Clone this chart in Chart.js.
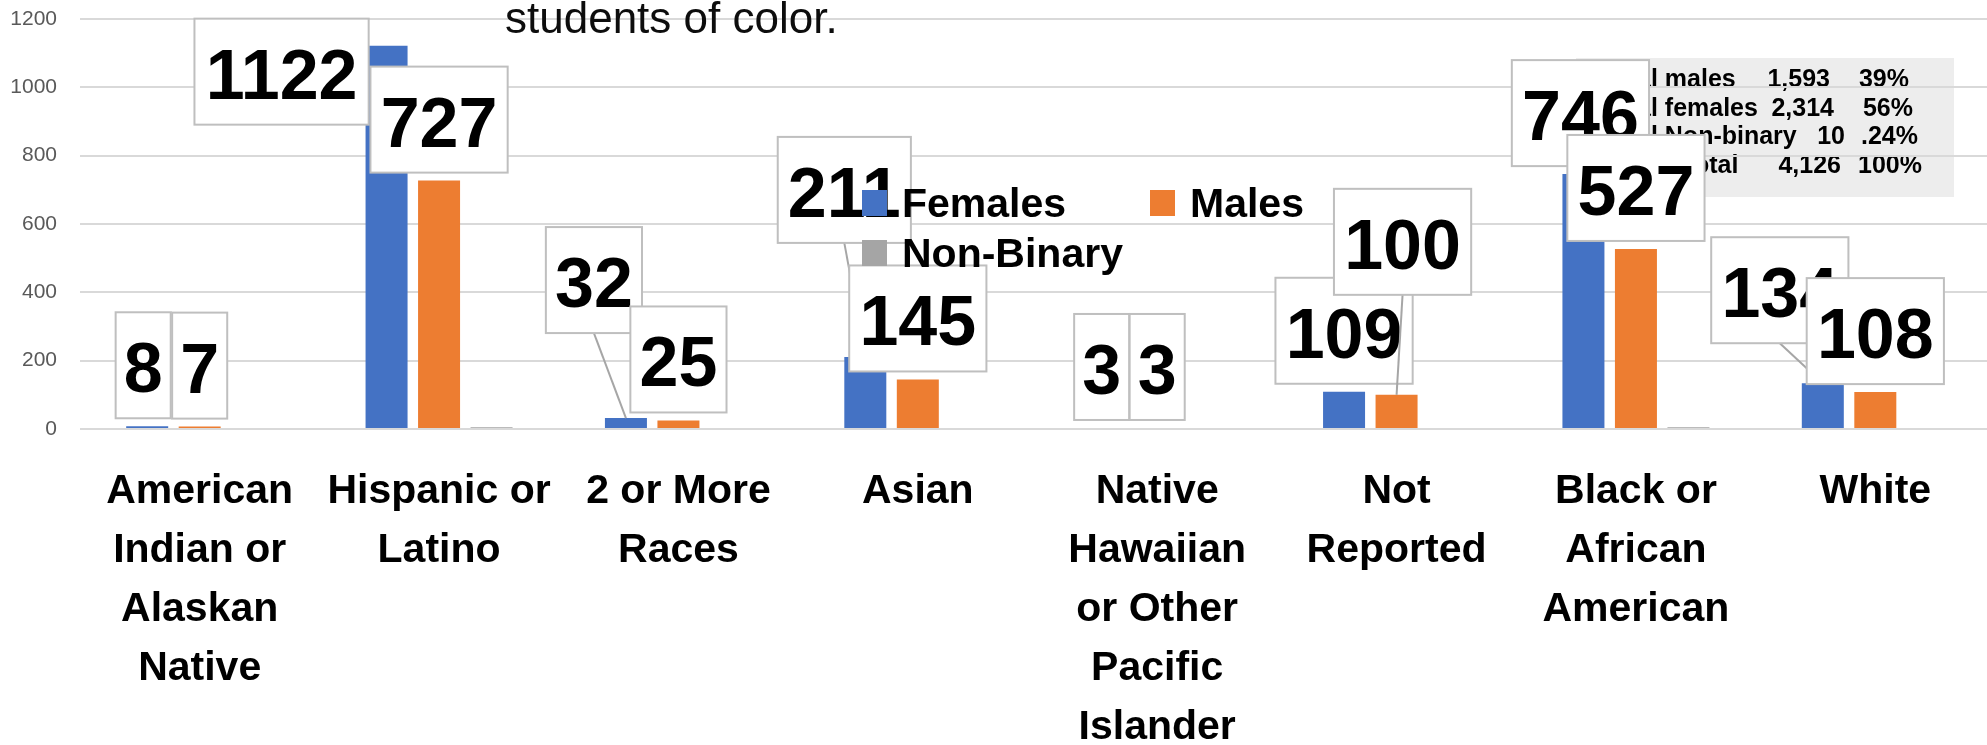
<!DOCTYPE html>
<html>
<head>
<meta charset="utf-8">
<title>Students by race / ethnicity and gender</title>
<script src="https://cdn.jsdelivr.net/npm/chart.js@4.4.1/dist/chart.umd.min.js"></script>
<style>
    html, body { margin: 0; padding: 0; background: #ffffff; overflow: hidden; }
    #wrap { width: 1995px; height: 745px; }
</style>
</head>
<body>
<div id="wrap"><canvas id="raceChart" width="1995" height="745"></canvas></div>
<script>
// ---- data ----
const categories = [
    ['American', 'Indian or', 'Alaskan', 'Native'],
    ['Hispanic or', 'Latino'],
    ['2 or More', 'Races'],
    ['Asian'],
    ['Native', 'Hawaiian', 'or Other', 'Pacific', 'Islander'],
    ['Not', 'Reported'],
    ['Black or', 'African', 'American'],
    ['White']
];
const females = [8, 1122, 32, 211, 3, 109, 746, 134];
const males = [7, 727, 25, 145, 3, 100, 527, 108];
const nonBinary = [0, 5, 0, 0, 0, 0, 5, 0];
const yTicks = [0, 200, 400, 600, 800, 1000, 1200];

// summary table pasted on the slide
const summaryLabels = ['Total males', 'Total females', 'Total Non-binary', 'Grand Total'];
const summaryCounts = ['1,593', '2,314', '10', '4,126'];
const summaryShares = ['39%', '56%', '.24%', '100%'];

const titleText = 'students of color.';

// ---- label nudges (pixels, relative to the default spot above the bar) ----
const femaleNudge = [[-4, 0], [-105, 87], [-32, -77], [-21, -106], [-3, 0], [0, 0], [-3, 0], [-43, -32]];
const maleNudge = [[0, 0], [0, 0], [0, 0], [0, 0], [0, 0], [6, -92], [0, 0], [0, 0]];
const femaleLeader = [false, false, true, true, false, false, false, true];
const maleLeader = [false, false, false, false, false, true, false, false];

const FONT = "'Liberation Sans', Arial, sans-serif";
Chart.defaults.font.family = FONT;

/**
 * Page background plus the grey summary box (sits under the gridlines)
 */
const backdropPlugin = {
    id: 'backdrop',
    beforeDraw(chart) {
        const ctx = chart.ctx;
        ctx.save();
        ctx.fillStyle = '#ffffff';
        ctx.fillRect(0, 0, chart.width, chart.height);

        ctx.fillStyle = '#ededed';
        ctx.fillRect(1576, 58, 378, 139);

        ctx.fillStyle = '#000000';
        ctx.font = 'bold 25px ' + FONT;
        ctx.textBaseline = 'alphabetic';
        const countRight = [1830, 1834, 1845, 1841];
        const shareRight = [1909, 1913, 1918, 1922];
        summaryLabels.forEach((txt, i) => {
            const y = 87 + i * 28.6;
            ctx.textAlign = 'left';
            ctx.fillText(txt, 1600, y);
            ctx.textAlign = 'right';
            ctx.fillText(summaryCounts[i], countRight[i], y);
            ctx.fillText(summaryShares[i], shareRight[i], y);
        });
        ctx.restore();
    }
};

/**
 * Boxed value labels, Excel style, with leader lines for moved labels
 */
const valueLabelPlugin = {
    id: 'valueLabels',
    afterDatasetsDraw(chart) {
        const ctx = chart.ctx;
        const sets = [
            { values: females, nudge: femaleNudge, leader: femaleLeader, meta: chart.getDatasetMeta(0) },
            { values: males, nudge: maleNudge, leader: maleLeader, meta: chart.getDatasetMeta(1) }
        ];
        ctx.save();
        ctx.font = 'bold 70px ' + FONT;
        sets.forEach(set => {
            set.meta.data.forEach((bar, i) => {
                const text = String(set.values[i]);
                const w = ctx.measureText(text).width * 1.055 + 14;
                const h = 106;
                const cx = bar.x + set.nudge[i][0];
                const cy = bar.y - 61 + set.nudge[i][1];

                if (set.leader[i]) {
                    ctx.strokeStyle = '#a6a6a6';
                    ctx.lineWidth = 2;
                    ctx.beginPath();
                    ctx.moveTo(cx, cy + h / 2);
                    ctx.lineTo(bar.x, bar.y);
                    ctx.stroke();
                }

                ctx.fillStyle = '#ffffff';
                ctx.fillRect(cx - w / 2, cy - h / 2, w, h);
                ctx.strokeStyle = '#bfbfbf';
                ctx.lineWidth = 2;
                ctx.strokeRect(cx - w / 2, cy - h / 2, w, h);

                ctx.fillStyle = '#000000';
                ctx.textAlign = 'center';
                ctx.textBaseline = 'alphabetic';
                ctx.fillText(text, cx, cy + 27);
            });
        });
        ctx.restore();
    }
};

/**
 * Floating legend and the cut-off slide title
 */
const overlayPlugin = {
    id: 'overlay',
    afterDraw(chart) {
        const ctx = chart.ctx;
        const ds = chart.data.datasets;
        const spots = [[862, 190], [1150, 190], [862, 240]];
        ctx.save();
        ctx.font = 'bold 41px ' + FONT;
        ctx.textAlign = 'left';
        ctx.textBaseline = 'alphabetic';
        ds.forEach((d, i) => {
            const [x, y] = spots[i];
            ctx.fillStyle = d.backgroundColor;
            ctx.fillRect(x, y, 25, 26);
            ctx.fillStyle = '#000000';
            ctx.fillText(d.label, x + 40, y + 27);
        });

        ctx.font = '44px ' + FONT;
        ctx.fillStyle = '#0d0d0d';
        ctx.fillText(titleText, 505, 33);
        ctx.restore();
    }
};

const ctx = document.getElementById('raceChart').getContext('2d');

const chart = new Chart(ctx, {
    type: 'bar',
    data: {
        labels: categories,
        datasets: [
            { label: 'Females', data: females, backgroundColor: '#4472C4' },
            { label: 'Males', data: males, backgroundColor: '#ED7D31' },
            { label: 'Non-Binary', data: nonBinary, backgroundColor: '#A5A5A5' }
        ]
    },
    options: {
        responsive: false,
        animation: false,
        devicePixelRatio: 1,
        layout: { padding: { top: 19, left: 0, right: 0, bottom: 0 } },
        datasets: {
            bar: { categoryPercentage: 0.658, barPercentage: 0.8 }
        },
        plugins: {
            legend: { display: false },
            tooltip: { enabled: false }
        },
        scales: {
            x: {
                grid: { display: false, drawTicks: false },
                border: { display: false },
                ticks: {
                    color: '#000000',
                    font: { size: 41, weight: 'bold', lineHeight: 1.44 },
                    padding: 33,
                    autoSkip: false,
                    maxRotation: 0,
                    minRotation: 0
                },
                afterFit(scale) {
                    scale.height = 316;
                }
            },
            y: {
                min: 0,
                max: 1200,
                grid: { color: '#d9d9d9', lineWidth: 2, drawTicks: false },
                border: { display: false },
                ticks: {
                    color: '#595959',
                    font: { size: 21 },
                    padding: 23,
                    callback: value => String(value)
                },
                afterBuildTicks(scale) {
                    scale.ticks = yTicks.map(v => ({ value: v }));
                },
                afterFit(scale) {
                    scale.width = 80;
                    // tick padding is only wanted sideways, not above/below
                    scale.paddingTop = 0;
                    scale.paddingBottom = 0;
                }
            }
        }
    },
    plugins: [backdropPlugin, valueLabelPlugin, overlayPlugin]
});
</script>
</body>
</html>
